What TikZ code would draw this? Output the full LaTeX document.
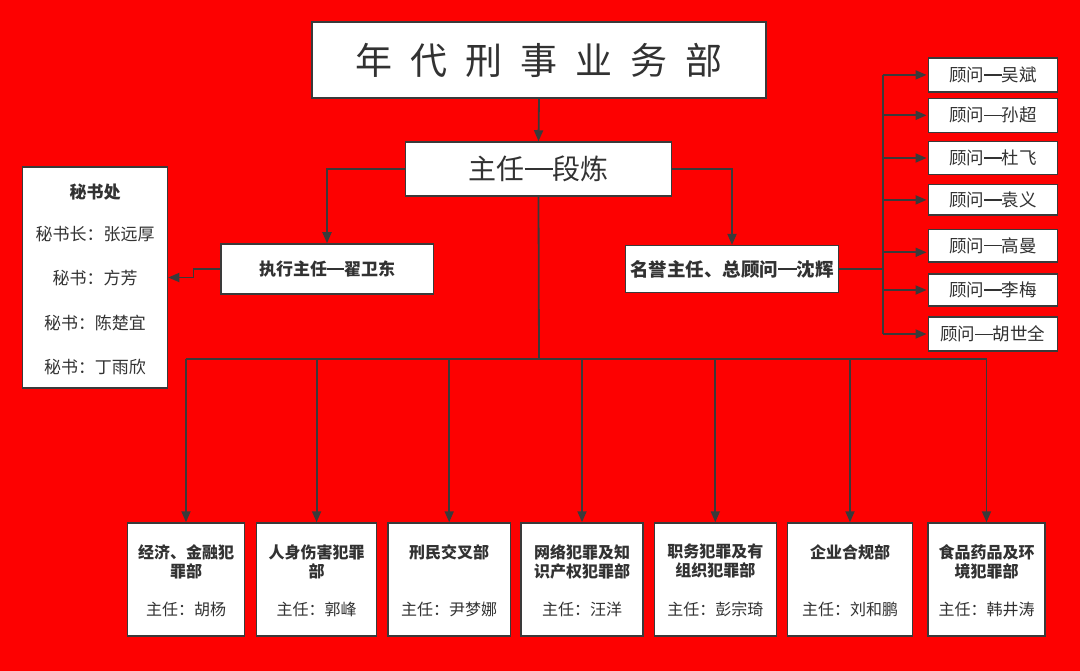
\documentclass[tikz,border=0pt]{standalone}
\usepackage{fontspec}
\setmainfont{Noto Sans CJK SC}
\usetikzlibrary{arrows.meta}
\definecolor{bgred}{RGB}{253,1,1}
\definecolor{dark}{RGB}{58,58,58}
\definecolor{txt}{RGB}{50,50,50}
\newcommand\mydash{\makebox[1em]{\rule[0.34em]{1em}{0.07em}}}
\newcommand\mybdash{\makebox[1em]{\rule[0.33em]{1em}{0.1em}}}
\tikzset{
  box/.style={draw=dark, line width=1.5pt, fill=white, inner sep=0pt, text=txt},
  conn/.style={draw=dark, line width=1.8pt},
  arr/.style={conn, -{Triangle[length=11pt,width=9pt]}},
  adv/.style={box, minimum width=129pt, font=\fontsize{17.5}{20}\selectfont},
  dept/.style={box, minimum height=113pt},
  dtitle/.style={anchor=north, inner sep=0pt, align=center, text=txt, font=\fontsize{16}{19}\selectfont\bfseries},
  dhead/.style={inner sep=0pt, text=txt, font=\fontsize{16}{19}\selectfont},
}
\begin{document}
\begin{tikzpicture}[x=1pt,y=-1pt]
\fill[bgred] (0,0) rectangle (1080,671);
\useasboundingbox (0,0) rectangle (1080,671);
% top
\node[box, minimum width=454pt, minimum height=76pt, font=\fontsize{37}{40}\selectfont] (title) at (539,60)
  {年\hspace{18pt}代\hspace{18pt}刑\hspace{18pt}事\hspace{18pt}业\hspace{18pt}务\hspace{18pt}部};
\node[box, minimum width=266pt, minimum height=54pt, font=\fontsize{28}{30}\selectfont] (dir) at (538.5,169) {主任\mydash 段炼};
% secretariat
\node[box, minimum width=145pt, minimum height=221pt] (sec) at (95,277.5) {};
\node[text=txt, inner sep=0pt, font=\fontsize{17}{20}\selectfont\bfseries] (s0) at (95,192) {秘书处};
\node[text=txt, inner sep=0pt, font=\fontsize{17}{20}\selectfont] (s1) at (95,234) {秘书长：张远厚};
\node[text=txt, inner sep=0pt, font=\fontsize{17}{20}\selectfont] (s2) at (95,278) {秘书：方芳};
\node[text=txt, inner sep=0pt, font=\fontsize{17}{20}\selectfont] (s3) at (95,323) {秘书：陈楚宜};
\node[text=txt, inner sep=0pt, font=\fontsize{17}{20}\selectfont] (s4) at (95,367) {秘书：丁雨欣};
% exec and honorary
\node[box, minimum width=212.5pt, minimum height=50pt, font=\fontsize{17}{20}\selectfont\bfseries] (exec) at (327,269) {执行主任\mybdash 翟卫东};
\node[box, minimum width=213pt, minimum height=47pt, font=\fontsize{18.5}{20}\selectfont\bfseries] (hon) at (732,269.2) {名誉主任、总顾问\mybdash 沈辉};
% advisors
\node[adv, minimum height=34pt] (a1) at (992.8,74.9) {顾问\mydash 吴斌};
\node[adv, minimum height=34pt] (a2) at (992.8,115.3) {顾问\mydash 孙超};
\node[adv, minimum height=32.6pt] (a3) at (992.8,158) {顾问\mydash 杜飞};
\node[adv, minimum height=30.4pt] (a4) at (992.8,199.9) {顾问\mydash 袁义};
\node[adv, minimum height=32.7pt] (a5) at (992.8,245.7) {顾问\mydash 高曼};
\node[adv, minimum height=32pt] (a6) at (992.8,290) {顾问\mydash 李梅};
\node[adv, minimum height=34pt] (a7) at (992.8,334) {顾问\mydash 胡世全};
% departments
\node[dept, minimum width=117pt] (d1) at (186,579.5) {};
\node[dept, minimum width=120pt] (d2) at (316.6,579.5) {};
\node[dept, minimum width=122.6pt] (d3) at (449.2,579.5) {};
\node[dept, minimum width=122pt] (d4) at (582,579.5) {};
\node[dept, minimum width=122pt] (d5) at (715.3,579.5) {};
\node[dept, minimum width=124.7pt] (d6) at (850,579.5) {};
\node[dept, minimum width=117pt] (d7) at (986.5,579.5) {};
\node[dtitle] (t1) at (186,544) {经济、金融犯\\罪部};
\node[dtitle] (t2) at (316.6,544) {人身伤害犯罪\\部};
\node[dtitle] (t3) at (449.2,544) {刑民交叉部};
\node[dtitle] (t4) at (582,544) {网络犯罪及知\\识产权犯罪部};
\node[dtitle] (t5) at (715.3,544) {职务犯罪及有\\组织犯罪部};
\node[dtitle] (t6) at (850,544) {企业合规部};
\node[dtitle] (t7) at (986.5,544) {食品药品及环\\境犯罪部};
\node[dhead] (h1) at (186,609.3) {主任：胡杨};
\node[dhead] (h2) at (316.6,609.3) {主任：郭峰};
\node[dhead] (h3) at (449.2,609.3) {主任：尹梦娜};
\node[dhead] (h4) at (582,609.3) {主任：汪洋};
\node[dhead] (h5) at (715.3,609.3) {主任：彭宗琦};
\node[dhead] (h6) at (850,609.3) {主任：刘和鹏};
\node[dhead] (h7) at (986.5,609.3) {主任：韩井涛};
% connectors
\draw[arr] (title.south) -- (dir.north);
\draw[arr] (dir.west) -| (exec.north);
\draw[arr] (dir.east) -| (hon.north);
\draw[arr] (exec.west) -- ++(-26.5,0) |- (sec.east);
\coordinate (bt) at (883.3,74.9);
\coordinate (bb) at (883.3,334);
\draw[conn] (hon.east) -- (bt |- hon.east);
\draw[conn] (bt) -- (bb);
\foreach \i in {1,2,3,4,6,7} {
  \draw[arr] (bt |- a\i.west) -- ([xshift=-1pt]a\i.west);
}
\coordinate (a5y) at (0,252.3);
\draw[arr] (bt |- a5y) -- ([xshift=-1pt]a5.west |- a5y);
\coordinate (hb) at (539,359.3);
\draw[conn] (dir.south) -- (hb);
\draw[conn] (d1.north |- hb) -- (d7.north |- hb);
\foreach \i in {1,...,7} {
  \draw[arr] (d\i.north |- hb) -- (d\i.north);
}
\end{tikzpicture}
\end{document}
